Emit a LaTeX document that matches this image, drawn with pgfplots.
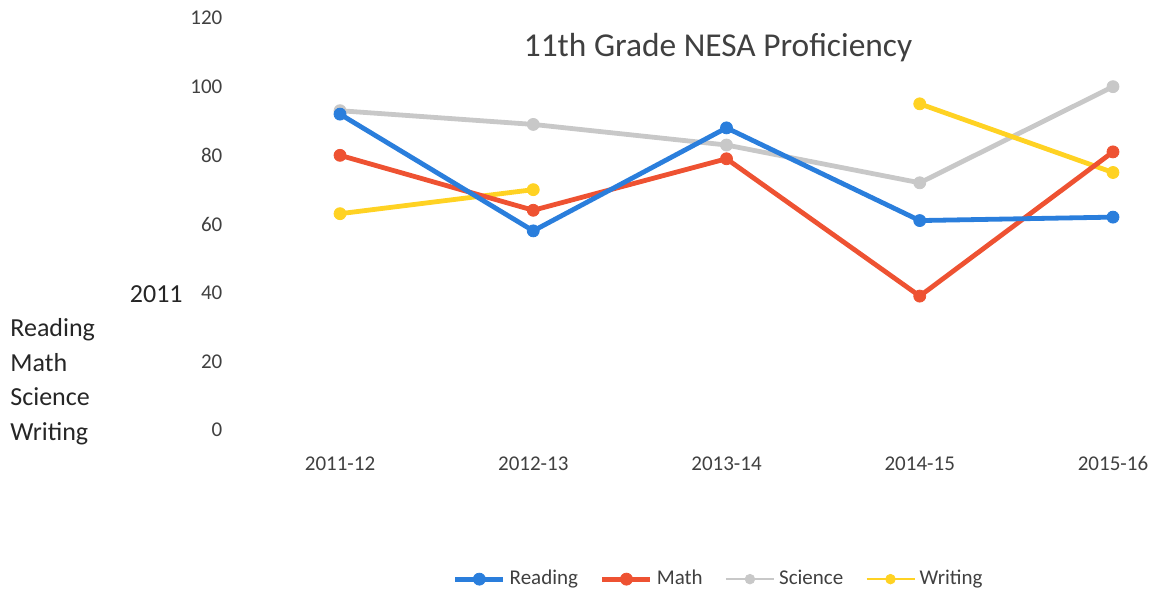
\documentclass[border=0pt]{standalone}
\usepackage{fontspec}
\setmainfont{Carlito}
\usepackage{pgfplots}
\pgfplotsset{compat=1.18}
\definecolor{cRead}{RGB}{42,126,220}
\definecolor{cMath}{RGB}{238,82,50}
\definecolor{cSci}{RGB}{200,200,200}
\definecolor{cWrit}{RGB}{255,210,35}
\definecolor{txt}{RGB}{64,64,64}
\begin{document}
\begin{tikzpicture}
\useasboundingbox (0pt,0pt) rectangle (577.5pt,299.5pt);
\begin{axis}[
  at={(121.7pt,84.5pt)}, anchor=south west,
  scale only axis, width=483.1pt, height=206pt,
  xmin=-0.5, xmax=4.5, ymin=0, ymax=120,
  xtick={0,1,2,3,4},
  xticklabels={2011-12,2012-13,2013-14,2014-15,2015-16},
  ytick={0,20,40,60,80,100,120},
  axis line style={draw=none}, major tick length=0pt,
  tick label style={font=\fontsize{10.5}{12}\selectfont, text=txt},
  /pgf/number format/assume math mode=true,
  yticklabel style={xshift=-7pt},
  xticklabel style={yshift=-9pt, text height=7.5pt, text depth=2pt},
  unbounded coords=jump,
  clip=false,
  legend columns=4,
  legend style={at={(0.493,-0.362)}, anchor=center, draw=none, fill=none,
    font=\fontsize{10.5}{12}\selectfont, text=txt,
    /tikz/every even column/.append style={column sep=9pt}},
  legend image code/.code={\draw[mark repeat=2,mark phase=2,#1] plot coordinates {(0pt,0pt)(12pt,0pt)(24pt,0pt)};},
  every axis plot/.append style={line width=2.4pt, mark=*, mark size=3pt},
]
\addplot[color=cSci, mark options={fill=cSci, line width=0.4pt}, forget plot] coordinates {(0,93) (1,89) (2,83) (3,72) (4,100)};
\addplot[color=cWrit, mark options={fill=cWrit, line width=0.4pt}, forget plot] coordinates {(0,63) (1,70) (2,nan) (3,95) (4,75)};
\addplot[color=cMath, mark options={fill=cMath, line width=0.4pt}, forget plot] coordinates {(0,80) (1,64) (2,79) (3,39) (4,81)};
\addplot[color=cRead, mark options={fill=cRead, line width=0.4pt}, forget plot] coordinates {(0,92) (1,58) (2,88) (3,61) (4,62)};
\addlegendimage{color=cRead, mark options={fill=cRead, line width=0.4pt}, line width=2.4pt, mark=*, mark size=3pt}
\addlegendentry{Reading}
\addlegendimage{color=cMath, mark options={fill=cMath, line width=0.4pt}, line width=2.4pt, mark=*, mark size=3pt}
\addlegendentry{Math}
\addlegendimage{color=cSci, mark options={fill=cSci, line width=0.4pt}, line width=1.2pt, mark=*, mark size=2.4pt}
\addlegendentry{Science}
\addlegendimage{color=cWrit, mark options={fill=cWrit, line width=0.4pt}, line width=1.2pt, mark=*, mark size=2.4pt}
\addlegendentry{Writing}
\end{axis}
\node[font=\fontsize{16.7}{20}\selectfont, text=txt] at (359pt,275.5pt) {11th Grade NESA Proficiency};
\begin{scope}[every node/.style={font=\fontsize{13}{15}\selectfont, text=black!85, inner sep=0pt}]
\node[anchor=base east] at (91.5pt,148pt) {2011};
\node[anchor=base west] at (5pt,131pt) {Reading};
\node[anchor=base west] at (5pt,113.5pt) {Math};
\node[anchor=base west] at (5pt,96.5pt) {Science};
\node[anchor=base west] at (5pt,79pt) {Writing};
\end{scope}
\end{tikzpicture}
\end{document}
